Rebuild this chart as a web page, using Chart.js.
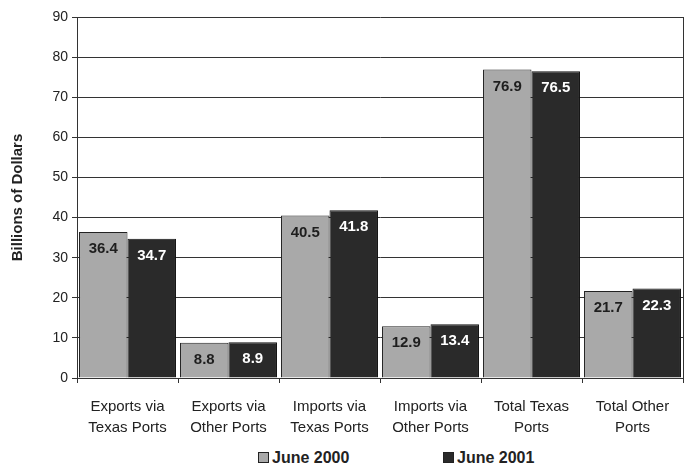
<!DOCTYPE html>
<html>
<head>
<meta charset="utf-8">
<script src="https://cdn.jsdelivr.net/npm/chart.js@4.4.0/dist/chart.umd.min.js"></script>
<style>
body { margin: 0; background: #fff; font-family: 'Liberation Sans', Arial, sans-serif; }
#wrap { position: relative; width: 685px; height: 440px; }
#legend { position: relative; width: 685px; height: 26px; }
.item { position: absolute; top: 9px; font-weight: bold; font-size: 16px; color: #222; }
.box { display: inline-block; width: 9px; height: 9px; border: 1px solid #222; margin-right: 3px; }
</style>
</head>
<body>
<div id="wrap"><canvas id="chart"></canvas></div>
<div id="legend"></div>
<script>
const categories = [
    ['Exports via', 'Texas Ports'],
    ['Exports via', 'Other Ports'],
    ['Imports via', 'Texas Ports'],
    ['Imports via', 'Other Ports'],
    ['Total Texas', 'Ports'],
    ['Total Other', 'Ports']
];
const june2000 = [36.4, 8.8, 40.5, 12.9, 76.9, 21.7];
const june2001 = [34.7, 8.9, 41.8, 13.4, 76.5, 22.3];
const seriesNames = ['June 2000', 'June 2001'];
const seriesColors = ['#a9a9a9', '#2a2a2a'];

const FONT = "'Liberation Sans', Arial, sans-serif";

// value labels inside the top of each bar
const valueLabels = {
    id: 'valueLabels',
    afterDatasetsDraw(chart) {
        const ctx = chart.ctx;
        ctx.save();
        ctx.font = 'bold 15px ' + FONT;
        ctx.textAlign = 'center';
        ctx.textBaseline = 'middle';
        chart.data.datasets.forEach((ds, i) => {
            chart.getDatasetMeta(i).data.forEach((bar, j) => {
                ctx.fillStyle = i === 0 ? '#1e1e1e' : '#fff';
                ctx.fillText(ds.data[j].toFixed(1), bar.x, bar.y + 17);
            });
        });
        ctx.restore();
    }
};

const rightBorder = {
    id: 'rightBorder',
    afterDraw(chart) {
        const a = chart.chartArea;
        const ctx = chart.ctx;
        ctx.save();
        ctx.strokeStyle = '#333';
        ctx.lineWidth = 1;
        ctx.beginPath();
        ctx.moveTo(a.right + 0.5, a.top);
        ctx.lineTo(a.right + 0.5, a.bottom);
        ctx.stroke();
        ctx.restore();
    }
};

const chart = new Chart(document.querySelector('#chart').getContext('2d'), {
    type: 'bar',
    data: {
        labels: categories,
        datasets: [
            {
                label: seriesNames[0],
                data: june2000,
                backgroundColor: seriesColors[0],
                borderColor: '#222',
                borderWidth: 1
            },
            {
                label: seriesNames[1],
                data: june2001,
                backgroundColor: seriesColors[1],
                borderColor: '#111',
                borderWidth: 1
            }
        ]
    },
    options: {
        responsive: true,
        maintainAspectRatio: false,
        animation: false,
        layout: { padding: { top: 17, right: 2, left: 0, bottom: 0 } },
        datasets: { bar: { categoryPercentage: 0.96, barPercentage: 1.0 } },
        plugins: {
            legend: { display: false },
            tooltip: { enabled: false }
        },
        scales: {
            x: {
                grid: { drawOnChartArea: false, drawTicks: true, tickLength: 5, color: '#333', offset: true },
                border: { color: '#333' },
                ticks: { color: '#222', font: { family: FONT, size: 15, lineHeight: 1.4 }, padding: 13, maxRotation: 0, autoSkip: false },
                afterFit(scale) { scale.height = 62; }
            },
            y: {
                min: 0,
                max: 90,
                ticks: { stepSize: 10, color: '#222', font: { family: FONT, size: 14 }, padding: 4 },
                grid: { color: '#333', tickLength: 5 },
                border: { color: '#333' },
                title: {
                    display: true,
                    text: 'Billions of Dollars',
                    color: '#222',
                    padding: { top: 9, bottom: 0 },
                    font: { family: FONT, size: 15, weight: 'bold' }
                },
                afterFit(scale) { scale.width = 77; }
            }
        }
    },
    plugins: [valueLabels, rightBorder]
});

const legend = document.querySelector('#legend');
const legendLeft = [258, 443];
seriesNames.forEach((name, i) => {
    const item = document.createElement('span');
    item.className = 'item';
    item.style.left = legendLeft[i] + 'px';
    item.innerHTML = '<span class="box" style="background:' + seriesColors[i] + '"></span>' + name;
    legend.appendChild(item);
});
</script>
</body>
</html>
